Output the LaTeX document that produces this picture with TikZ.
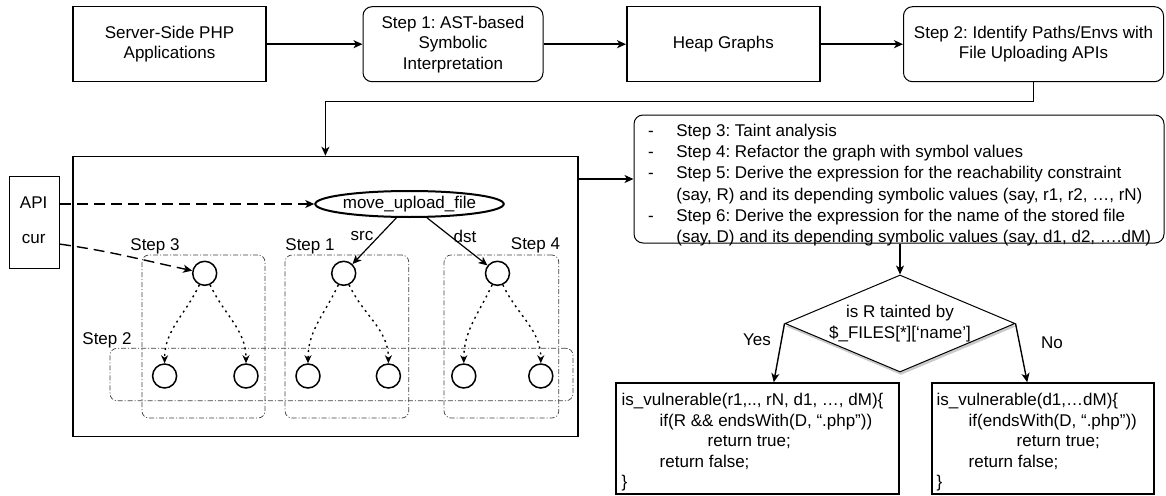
\documentclass[tikz,border=0pt]{standalone}
\usepackage{fontspec}
\setmainfont{Liberation Sans}
\usetikzlibrary{arrows.meta,shapes.geometric,shadows}
\frenchspacing

\tikzset{
  every node/.style={font=\fontsize{17}{20.5}\selectfont\frenchspacing, inner sep=0pt},
  sqbox/.style={draw, line width=1.5pt, align=center},
  rbox/.style={draw, line width=1pt, rounded corners=9pt, align=center},
  arr/.style={line width=1.4pt, -{Stealth[length=9pt,width=8pt,inset=2.5pt]}},
  darr/.style={arr, dash pattern=on 11pt off 6pt},
  dotarr/.style={line width=1.4pt, dash pattern=on 2pt off 4pt,
                 -{Stealth[length=8pt,width=7pt,inset=2.5pt]}},
  grp/.style={draw=black!75, line width=0.7pt,
              dash pattern=on 5pt off 2pt on 1pt off 2pt, rounded corners=7pt},
  hnode/.style={draw, circle, line width=1.5pt, minimum size=24pt},
  decision/.style={draw, diamond, line width=1pt, align=center,
                   minimum width=230pt, minimum height=97pt, shape aspect=2.37,
                   fill=white,
                   drop shadow={shadow xshift=1pt, shadow yshift=-3pt,
                                opacity=0.35, fill=black!60}},
}

\begin{document}
\begin{tikzpicture}[x=1pt, y=-1pt]
\useasboundingbox (0,0) rectangle (1166,495);

% ---- pipeline on the top row
\node[sqbox, minimum width=193pt, minimum height=75pt] (php)  at (169.5,44.2) {Server-Side PHP\\Applications};
\node[rbox,  minimum width=180pt, minimum height=75pt] (ast)  at (453,44.2)   {Step 1: AST-based\\Symbolic\\Interpretation};
\node[sqbox, minimum width=193pt, minimum height=75pt] (heap) at (723.3,44.2) {Heap Graphs};
\node[rbox,  minimum width=260pt, minimum height=75pt] (ident) at (1033.5,44.2) {Step 2: Identify Paths/Envs with\\File Uploading APIs};

\draw[arr] (php) -- (ast);
\draw[arr] (ast) -- (heap);
\draw[arr] (heap) -- (ident);

% ---- heap graph panel
\node[sqbox, minimum width=505pt, minimum height=280pt] (main) at (325.4,296.5) {};
\draw[arr] (ident.south) -- ++(0,19.5) -| (main.north);

\node[sqbox, minimum width=49.7pt, minimum height=91.6pt] (ifc) at (34.5,222.5) {};
\node (api) at (33.7,203) {API};
\node (cur) at (33.7,239.3) {cur};

\node[draw, ellipse, line width=2pt, minimum width=174pt, minimum height=26pt] (mup) at (409.5,204) {move\_upload\_file};

% dash-dot groups
\node[grp, minimum width=123pt,   minimum height=163pt] (g3) at (203.5,336.5) {};
\node[grp, minimum width=123.7pt, minimum height=163pt] (g1) at (346.9,336.5) {};
\node[grp, minimum width=114.7pt, minimum height=163pt] (g4) at (501.4,336.5) {};
\node[grp, minimum width=463pt,   minimum height=52.4pt] (g2) at (341.5,374.5) {};

\node (l3) at (155,246) {Step 3};
\node (l1) at (310,246) {Step 1};
\node (l4) at (535.5,245) {Step 4};
\node (l2) at (107,340) {Step 2};

% heap nodes
\node[hnode] (c3) at (204.7,273.3) {};
\node[hnode] (c1) at (343.7,273.3) {};
\node[hnode] (c4) at (497.5,273.3) {};
\node[hnode] (b1) at (164.6,376) {};
\node[hnode] (b2) at (246,376) {};
\node[hnode] (b3) at (308,376) {};
\node[hnode] (b4) at (388.4,376) {};
\node[hnode] (b5) at (463.8,376) {};
\node[hnode] (b6) at (540.8,376) {};

\draw[arr, line width=1.2pt] (mup) -- (c1);
\draw[arr, line width=1.2pt] (mup) -- (c4);
\node (src) at (362,236) {src};
\node (dst) at (465,236) {dst};

\foreach \t/\l/\r in {c3/b1/b2, c1/b3/b4, c4/b5/b6}{
  \draw[dotarr] (\t) to[out=-115, in=90] (\l);
  \draw[dotarr] (\t) to[out=-65, in=90] (\r);
}

\draw[darr] (ifc.east |- mup.west) -- (mup.west);
\draw[darr] (ifc.east |- cur.south) to[out=-8, in=168] (c3);

% ---- analysis steps
\node[rbox, minimum width=530pt, minimum height=128pt] (steps) at (899,179) {};
\draw[arr] (main.east |- steps.west) -- (steps.west);
\node[anchor=north west, font=\fontsize{17}{21.3}\selectfont\frenchspacing] (stepstext) at (648,121) {%
  \begin{tabular}{@{}l@{\hspace{22.5pt}}l@{}}
  - & Step 3: Taint analysis\\
  - & Step 4: Refactor the graph with symbol values\\
  - & Step 5: Derive the expression for the reachability constraint\\
    & (say, R) and its depending symbolic values (say, r1, r2, …, rN)\\
  - & Step 6: Derive the expression for the name of the stored file\\
    & (say, D) and its depending symbolic values (say, d1, d2, ….dM)
  \end{tabular}};

% ---- decision
\node[decision] (dia) at (900,323.5) {is R tainted by\\\$\_FILES[*][‘name’]};
\draw[arr] (steps.south -| dia.north) -- (dia.north);

\node[sqbox, minimum width=283pt, minimum height=111pt] (vyes) at (757.5,438.5) {};
\node[sqbox, minimum width=222pt, minimum height=111pt] (vno)  at (1043,438.5) {};

\draw[arr] (dia.west) -- ([xshift=-126pt]vyes.north east);
\draw[arr] (dia.east) -- ([xshift=96pt]vno.north west);
\node (yes) at (757,340) {Yes};
\node (no)  at (1052,343) {No};

\node[anchor=north west] (codeyes) at (621.5,391) {%
  \begin{tabular}{@{}l@{}}
  is\_vulnerable(r1,.., rN, d1, …, dM)\{\\
  \hspace{38pt}if(R \&\& endsWith(D, “.php”))\\
  \hspace{86pt}return true;\\
  \hspace{38pt}return false;\\
  \}
  \end{tabular}};
\node[anchor=north west] (codeno) at (936.5,391) {%
  \begin{tabular}{@{}l@{}}
  is\_vulnerable(d1,…dM)\{\\
  \hspace{32pt}if(endsWith(D, “.php”))\\
  \hspace{80pt}return true;\\
  \hspace{32pt}return false;\\
  \}
  \end{tabular}};
\end{tikzpicture}
\end{document}
